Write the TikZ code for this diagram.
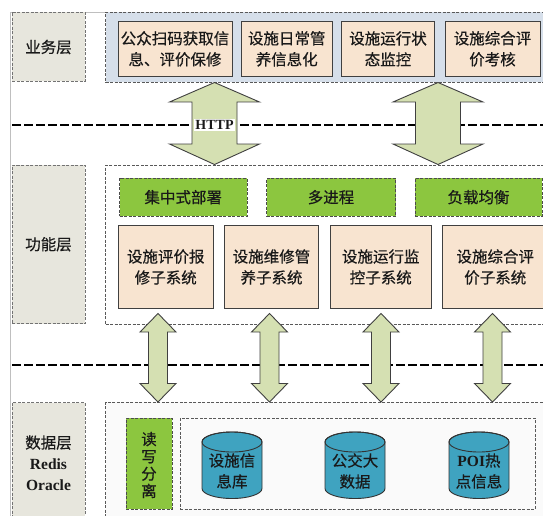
\documentclass[tikz,border=0pt]{standalone}
\usepackage{fontspec}
\setmainfont{Noto Sans CJK SC}[FakeBold=0.5]
\newfontfamily\lat{Liberation Serif}
\definecolor{lblfill}{HTML}{E7E6DD}
\definecolor{bizfill}{HTML}{D6DFEA}
\definecolor{peach}{HTML}{F8E4D0}
\definecolor{leaf}{HTML}{8CC63F}
\definecolor{tea}{HTML}{D5E0B2}
\definecolor{cylfill}{HTML}{3FA3C0}
\definecolor{datafill}{HTML}{FAFAFA}
\newcommand\blockarrow[7]{%
  \filldraw[blk] (#1,#2) -- ({#1+#6},#3) -- ({#1+#7},#3) -- ({#1+#7},#4) -- ({#1+#6},#4) -- (#1,#5) -- ({#1-#6},#4) -- ({#1-#7},#4) -- ({#1-#7},#3) -- ({#1-#6},#3) -- cycle;}
\newcommand\dbcyl[2]{% cx, name
  \filldraw[cyl] ({#1-30},442) -- ({#1-30},488.5) arc[start angle=180,end angle=360,x radius=30pt,y radius=10pt] -- ({#1+30},442) arc[start angle=0,end angle=180,x radius=30pt,y radius=10pt] -- cycle;
  \draw[cyl,fill=none] (#1,442) ellipse[x radius=30pt,y radius=10pt];
  \coordinate (#2) at (#1,471);}
\begin{document}
\begin{tikzpicture}[x=1pt,y=-1pt,
  every node/.style={inner sep=0pt, align=center, text=black!90, font=\fontsize{15.5}{21}\selectfont},
  lblbox/.style={draw=black!55, dash pattern=on 3pt off 1.5pt, fill=lblfill, line width=0.8pt},
  layerbox/.style={draw=black!65, dash pattern=on 3pt off 1.5pt, line width=0.8pt},
  orangebox/.style={draw=black!75, fill=peach, line width=0.9pt},
  greenbox/.style={draw=black!70, dash pattern=on 3pt off 1.5pt, fill=leaf, line width=0.8pt},
  sepline/.style={line width=2pt, dash pattern=on 8.5pt off 3.5pt},
  blk/.style={draw=black!75, fill=tea, line width=0.9pt},
  cyl/.style={draw=black!80, fill=cylfill, line width=0.9pt}
]
\useasboundingbox (0,0) rectangle (543,516);
\clip (0,0) rectangle (543,516);
\fill[white] (0,0) rectangle (543,516);
% outer frame
\draw[black!25, line width=0.8pt] (10,530) -- (10,12.5) -- (560,12.5);

% separator lines
\draw[sepline] (12,125) -- (560,125);
\draw[sepline] (12,365) -- (560,365);

% layer labels
\node[lblbox, minimum width=73pt, minimum height=69pt] (lb1) at (48.5,47) {业务层};
\node[lblbox, minimum width=73pt, minimum height=158.5pt] (lb2) at (48.5,244.25) {功能层};
\node[lblbox, minimum width=73pt, minimum height=137.3pt] (lb3) at (48.5,471.35) {};
\node (lb3t) at (48.5,463) {数据层\\{\lat\bfseries Redis}\\{\lat\bfseries Oracle}};

% business layer
\node[layerbox, fill=bizfill, minimum width=454.5pt, minimum height=70pt] (biz) at (332.75,47.5) {};
\node[orangebox, minimum width=114pt, minimum height=54.3pt] (b1) at (175,48.85) {公众扫码获取信\\息、评价保修};
\node[orangebox, minimum width=90.5pt, minimum height=54.3pt] (b2) at (286.75,48.85) {设施日常管\\养信息化};
\node[orangebox, minimum width=93pt, minimum height=54.3pt] (b3) at (388,48.85) {设施运行状\\态监控};
\node[orangebox, minimum width=95pt, minimum height=54.3pt] (b4) at (492.5,48.85) {设施综合评\\价考核};

% function layer
\node[layerbox, fill=white, minimum width=454.5pt, minimum height=159.5pt] (fun) at (332.75,244.75) {};
\node[greenbox, minimum width=127.5pt, minimum height=37.7pt] (g1) at (183.25,197.15) {集中式部署};
\node[greenbox, minimum width=129pt, minimum height=37.7pt] (g2) at (331,197.15) {多进程};
\node[greenbox, minimum width=127pt, minimum height=37.7pt] (g3) at (478.5,197.15) {负载均衡};
\node[orangebox, minimum width=94.5pt, minimum height=82.6pt] (o1) at (165.75,267) {设施评价报\\修子系统};
\node[orangebox, minimum width=94pt, minimum height=82.6pt] (o2) at (271.5,267) {设施维修管\\养子系统};
\node[orangebox, minimum width=100.5pt, minimum height=82.6pt] (o3) at (380.75,267) {设施运行监\\控子系统};
\node[orangebox, minimum width=105.5pt, minimum height=82.6pt] (o4) at (495.25,267) {设施综合评\\价子系统};

% data layer
\node[layerbox, fill=datafill, minimum width=454.5pt, minimum height=158pt] (dat) at (332.75,481) {};
\node[greenbox, minimum width=46pt, minimum height=91pt] (rw) at (149,463.8) {};
\node[font=\fontsize{15.5}{17.3}\selectfont] (rwt) at (149,465) {读\\写\\分\\离};
\node[layerbox, fill=datafill, minimum width=355pt, minimum height=91pt] (db) at (357.5,463.8) {};
\dbcyl{232}{c1}
\dbcyl{355}{c2}
\dbcyl{479}{c3}
\node (c1t) at (c1) {设施信\\息库};
\node (c2t) at (c2) {公交大\\数据};
\node (c3t) at (c3) {{\lat\bfseries POI}热\\点信息};

% big arrows
\blockarrow{214.5}{82.5}{102}{144}{164.5}{45}{22.5}
\blockarrow{438}{82.5}{102}{144}{164.5}{45}{22.5}
\node[fill=white, inner sep=1pt, font=\lat\bfseries\fontsize{14}{16}\selectfont] (http) at (214.5,125) {HTTP};

% small arrows
\blockarrow{158}{313.5}{332}{383.5}{402}{18}{9.5}
\blockarrow{269.5}{313.5}{332}{383.5}{402}{18}{9.5}
\blockarrow{381}{313.5}{332}{383.5}{402}{18}{9.5}
\blockarrow{492.5}{313.5}{332}{383.5}{402}{18}{9.5}
\end{tikzpicture}
\end{document}
